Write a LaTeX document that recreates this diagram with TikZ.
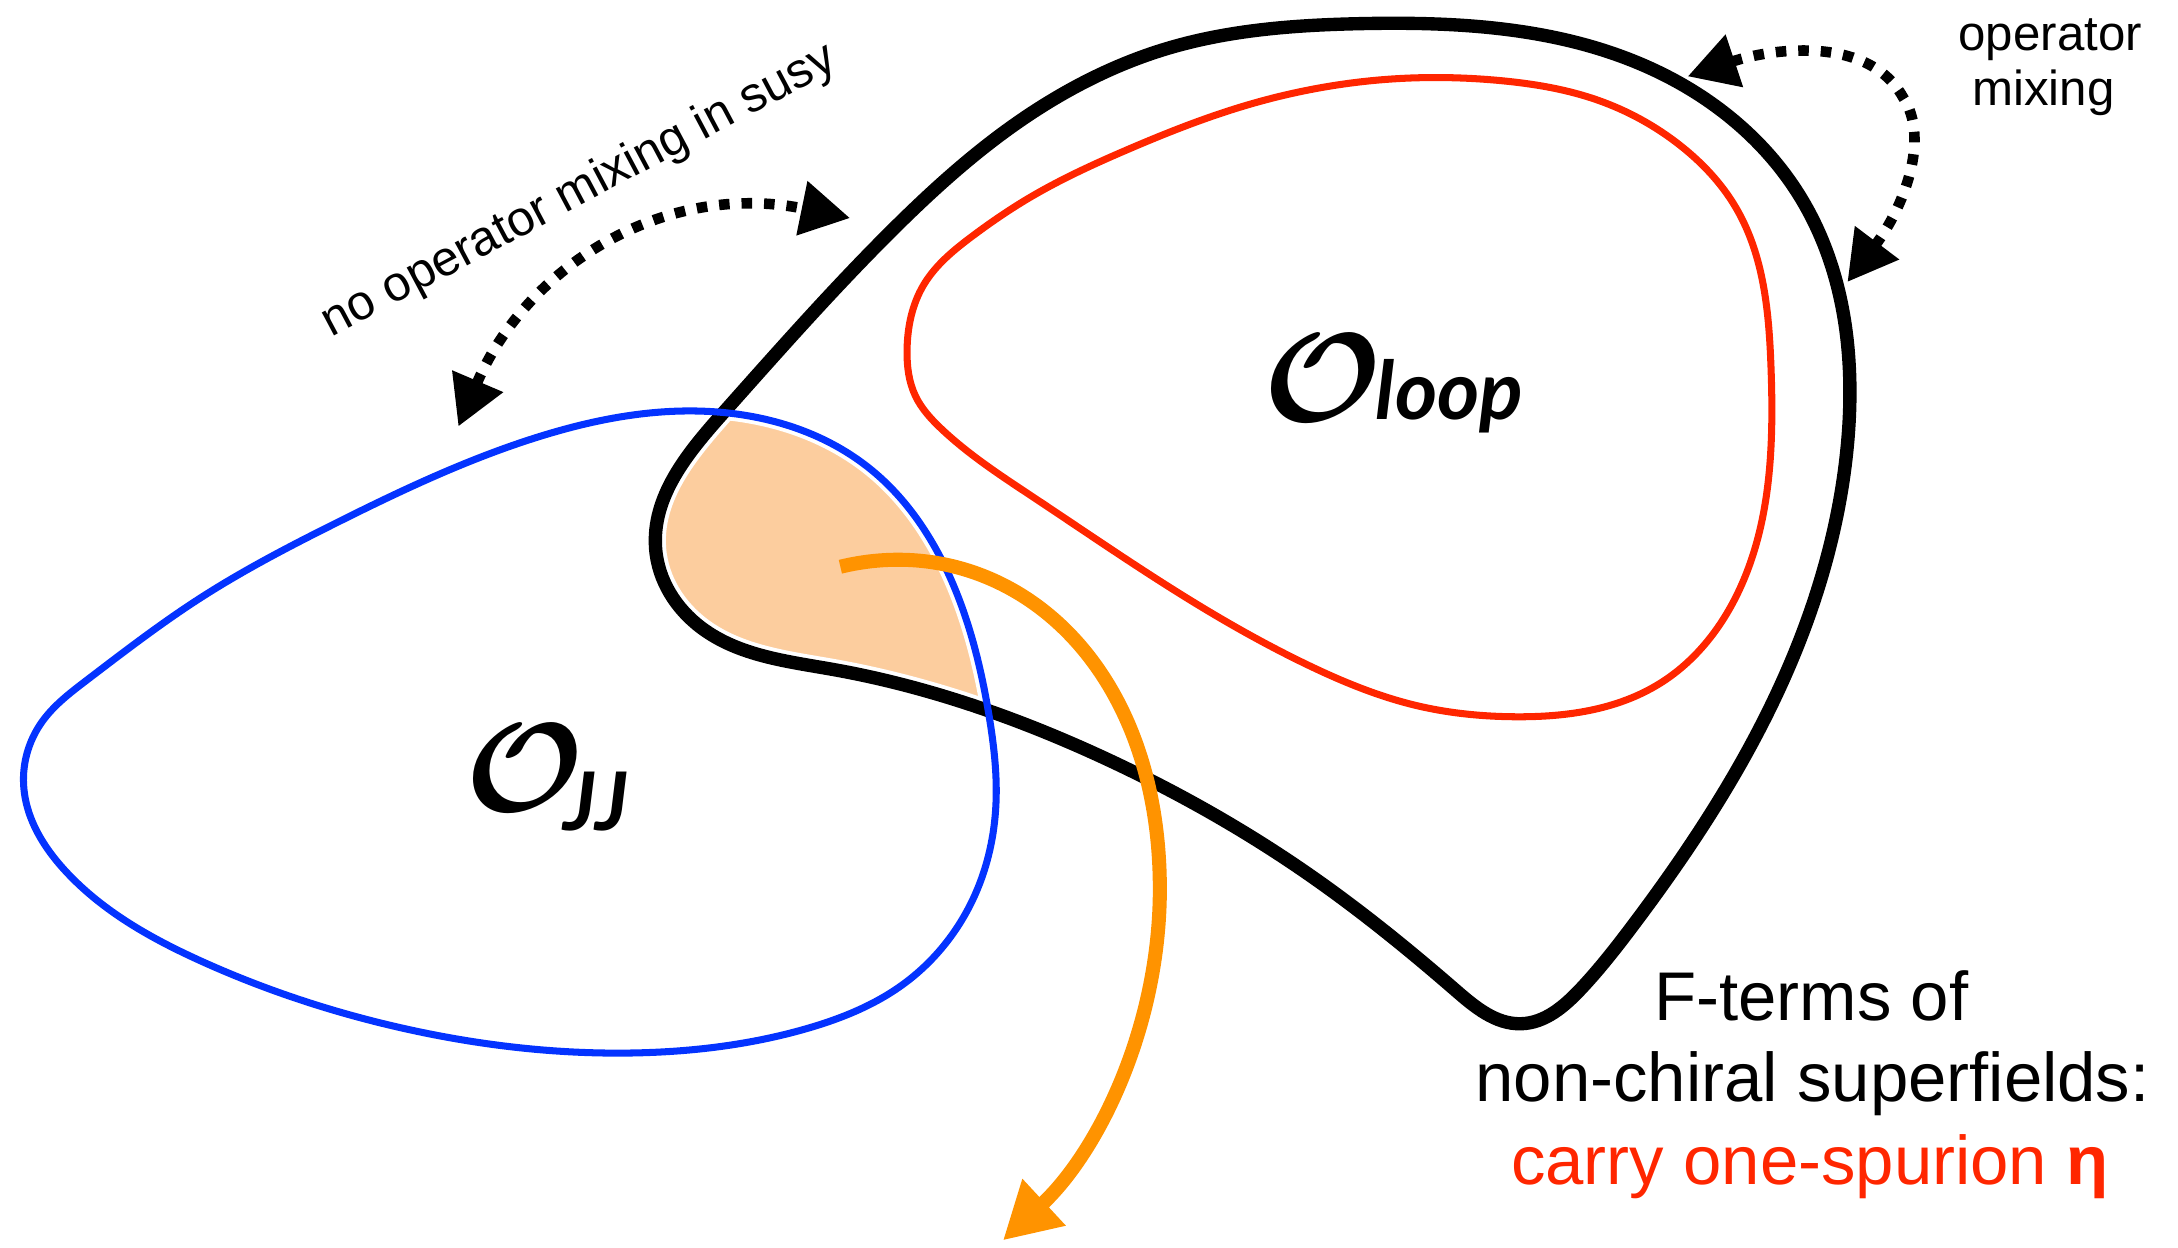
\documentclass[tikz,border=0pt]{standalone}
\usepackage{fontspec}
\usepackage{bm}
\setmainfont{Liberation Sans}
\newfontfamily\latofont{Lato}
\usetikzlibrary{arrows.meta,hobby}
\definecolor{myblue}{RGB}{4,51,255}
\definecolor{myred}{RGB}{255,38,0}
\definecolor{myorange}{RGB}{255,147,0}
\definecolor{mypeach}{RGB}{252,205,158}
\newcommand\blackcurve{(980,17) .. (1190,50) .. (1298,145) .. (1330,320) .. (1290,475) .. (1175,667) .. (1138,712) .. (1095,737) .. (1048,713) .. (940,628) .. (800,548) .. (600,482) .. (505,452) .. (472,395) .. (520,298) .. (640,168) .. (730,90) .. (840,35)}
\newcommand\bluecurve{(506,296) .. (627,338) .. (685,418) .. (712,515) .. (717,579) .. (702,644) .. (651,708) .. (579,741) .. (458,758) .. (289,740) .. (145,692) .. (48,628) .. (17,565) .. (30,520) .. (62,490) .. (145,430) .. (241,377) .. (386,315)}
\newcommand\redcurve{(653,252) .. (665,205) .. (700,170) .. (740,143) .. (811,108) .. (900,75) .. (1000,57) .. (1080,58) .. (1150,72) .. (1210,105) .. (1250,150) .. (1275,265) .. (1252,425) .. (1195,492) .. (1090,516) .. (1020,508) .. (940,478) .. (870,440) .. (744,358) .. (678,309) .. (659,285)}
\tikzset{
  hobbyc/.style={use Hobby shortcut, closed=true},
  dotarrow/.style={line width=3pt, dash pattern=on 3pt off 3.4pt, {Triangle[length=14pt,width=15pt]}-{Triangle[length=14pt,width=15pt]}},
  orangearrow/.style={myorange, line width=4pt, -{Triangle[length=16pt,width=17pt]}},
  lbl/.style={inner sep=0pt, font=\fontsize{14}{16}\selectfont},
  bigtxt/.style={inner sep=0pt, anchor=base, font=\fontsize{19.6}{23}\selectfont},
  subtxt/.style={inner sep=0pt, anchor=base west, font=\latofont\bfseries\itshape\fontsize{23}{28}\selectfont},
}
\begin{document}
\begin{tikzpicture}[x=0.01389cm,y=-0.01389cm]
\useasboundingbox (0,0) rectangle (1568,898);
% peach overlap region
\begin{scope}
  \clip[hobbyc] \bluecurve;
  \fill[hobbyc, mypeach] \blackcurve;
\end{scope}
\draw[hobbyc, white, line width=6pt] \blackcurve;
\draw[hobbyc, white, line width=4.2pt] \bluecurve;
% curves
\draw[hobbyc, myred, line width=2pt] \redcurve;
\draw[hobbyc, black, line width=3.8pt] \blackcurve;
\draw[hobbyc, myblue, line width=2pt] \bluecurve;
% labels
\node[inner sep=0pt, scale=3.6] (Oloop) at (952,272) {$\bm{\mathcal{O}}$};
\node[subtxt] (loop) at (990,302) {loop};
\node[inner sep=0pt, scale=3.6] (Ojj) at (378,553) {$\bm{\mathcal{O}}$};
\node[subtxt] (jj) at (405,598) {JJ};
% dotted arrows
\coordinate (L1) at (330,307);
\coordinate (L2) at (612,157);
\draw[dotarrow] (L1) .. controls (380,190) and (480,130) .. (L2);
\coordinate (R1) at (1215,55);
\coordinate (R2) at (1330,203);
\draw[dotarrow] (R1) .. controls (1275,35) and (1345,25) .. (1370,70) .. controls (1390,100) and (1370,150) .. (R2);
\node[lbl, rotate=28] (nomix) at (417,138) {no operator mixing in susy};
\node[lbl, anchor=base] (op1) at (1476,36) {operator};
\node[lbl, anchor=base] (op2) at (1471,76) {mixing};
% orange arrow
\coordinate (S) at (605,408);
\coordinate (T) at (722,893);
\draw[orangearrow] (S) .. controls (720,380) and (835,470) .. (835,640) .. controls (835,740) and (790,830) .. (T);
% bottom text
\node[bigtxt] (f1) at (1304,735) {F-terms of};
\node[bigtxt] (f2) at (1305,793) {non-chiral superfields:};
\node[bigtxt, text=myred] (f3) at (1303,853) {carry one-spurion \textbf{η}};
\end{tikzpicture}
\end{document}
